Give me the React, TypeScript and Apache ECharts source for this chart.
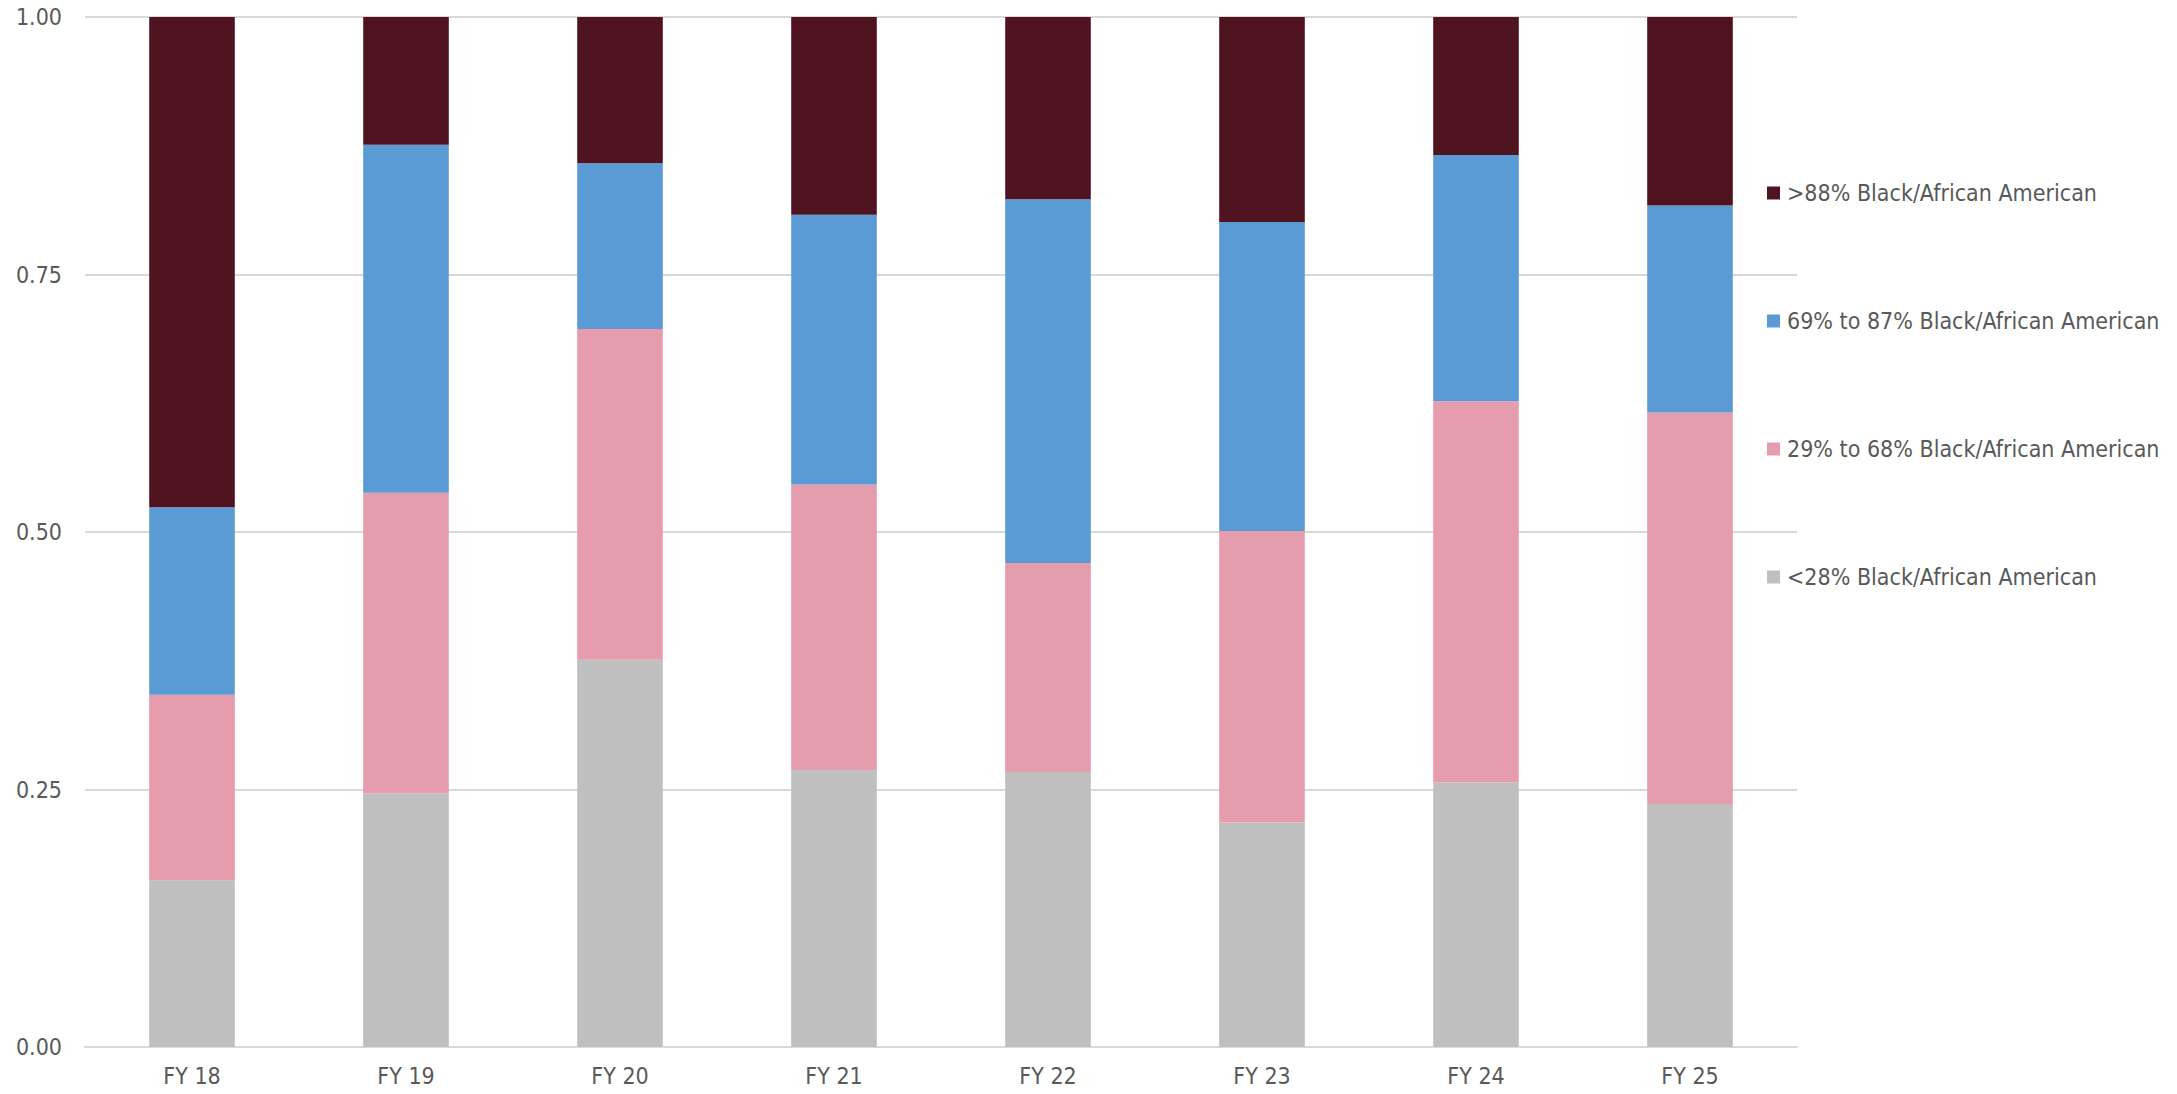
import React, { useEffect, useRef } from "react";
import * as echarts from "echarts";

// Fiscal years shown along the x axis
const categories = ["FY 18", "FY 19", "FY 20", "FY 21", "FY 22", "FY 23", "FY 24", "FY 25"];

// Share of each group per year (stacked bottom to top)
const under28 = [0.162, 0.246, 0.376, 0.269, 0.267, 0.218, 0.257, 0.236];
const from29to68 = [0.180, 0.292, 0.321, 0.277, 0.203, 0.283, 0.370, 0.380];
const from69to87 = [0.182, 0.338, 0.161, 0.262, 0.353, 0.300, 0.239, 0.201];
const over88 = [0.476, 0.124, 0.142, 0.192, 0.177, 0.199, 0.134, 0.183];

const seriesNames = [
  ">88% Black/African American",
  "69% to 87% Black/African American",
  "29% to 68% Black/African American",
  "<28% Black/African American",
];

const FONT = "'DejaVu Sans Condensed', 'DejaVu Sans', sans-serif";
const TEXT_COLOR = "#595959";
const GRID_COLOR = "#d9d9d9";

export default function App() {
  const ref = useRef<HTMLDivElement>(null);

  useEffect(() => {
    document.body.style.margin = "0";
    if (!ref.current) return;
    const chart = echarts.init(ref.current, undefined, { renderer: "svg" });

    const makeBar = (name: string, data: number[], color: string) => ({
      name,
      type: "bar",
      stack: "total",
      data,
      barWidth: "40%",
      itemStyle: { color },
    });

    chart.setOption({
      animation: false,
      backgroundColor: "#ffffff",
      textStyle: { fontFamily: FONT },
      grid: { left: 85, right: 380, top: 17, bottom: 47, containLabel: false },
      legend: {
        orient: "vertical",
        left: 1762,
        top: 176,
        itemWidth: 13,
        itemHeight: 13,
        itemGap: 104,
        icon: "rect",
        data: seriesNames,
        textStyle: {
          fontFamily: FONT,
          fontSize: 23,
          lineHeight: 24,
          color: TEXT_COLOR,
          padding: [0, 0, 0, 2],
        },
      },
      xAxis: {
        type: "category",
        data: categories,
        axisTick: { show: false },
        axisLine: { show: true, lineStyle: { color: GRID_COLOR, width: 2 } },
        axisLabel: { color: TEXT_COLOR, fontFamily: FONT, fontSize: 23, margin: 17 },
      },
      yAxis: {
        type: "value",
        min: 0,
        max: 1,
        interval: 0.25,
        axisLine: { show: false },
        axisTick: { show: false },
        splitLine: { lineStyle: { color: GRID_COLOR, width: 2 } },
        axisLabel: {
          color: TEXT_COLOR,
          fontFamily: FONT,
          fontSize: 23,
          margin: 23,
          formatter: (v: number) => v.toFixed(2),
        },
      },
      series: [
        makeBar(seriesNames[3], under28, "#bfbfbf"),
        makeBar(seriesNames[2], from29to68, "#e59cac"),
        makeBar(seriesNames[1], from69to87, "#5b9bd5"),
        makeBar(seriesNames[0], over88, "#4f1420"),
      ],
    });

    return () => chart.dispose();
  }, []);

  return <div ref={ref} style={{ width: 2177, height: 1094 }} />;
}
